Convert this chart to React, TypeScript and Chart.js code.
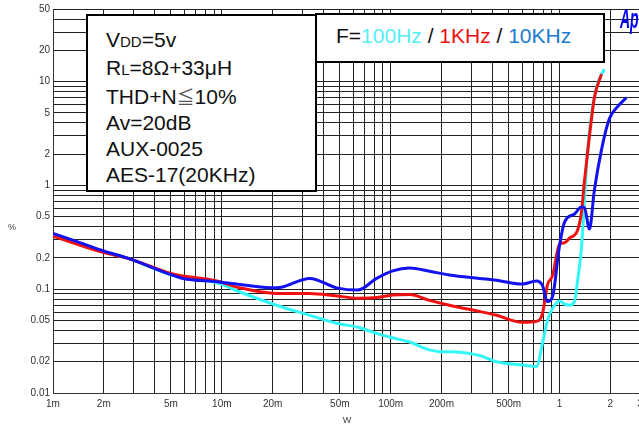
import React, { useEffect, useRef } from "react";
import { Chart, registerables } from "chart.js";
Chart.register(...registerables);

// Axis tick labels
const xLabelValues = [0.001, 0.002, 0.005, 0.01, 0.02, 0.05, 0.1, 0.2, 0.5, 1, 2, 3];
const xLabelTexts = ["1m", "2m", "5m", "10m", "20m", "50m", "100m", "200m", "500m", "1", "2", "3"];
const yLabelValues = [0.01, 0.02, 0.05, 0.1, 0.2, 0.5, 1, 2, 5, 10, 20, 50];
const yLabelTexts = ["0.01", "0.02", "0.05", "0.1", "0.2", "0.5", "1", "2", "5", "10", "20", "50"];

// 100Hz (cyan)
const cyanW = [0.001, 0.002, 0.00274, 0.00513, 0.00934, 0.0128, 0.0211, 0.0332, 0.0479, 0.0638, 0.0826, 0.1028, 0.1295, 0.17, 0.195, 0.223, 0.336, 0.424, 0.604, 0.731, 0.793, 0.849, 0.91, 1.0, 1.071, 1.146, 1.227, 1.28, 1.35, 1.406, 1.465, 1.567, 1.68, 1.846];
const cyanThd = [0.33, 0.228, 0.2, 0.136, 0.115, 0.094, 0.07, 0.056, 0.047, 0.043, 0.0375, 0.034, 0.031, 0.026, 0.025, 0.025, 0.023, 0.02, 0.0186, 0.018, 0.03, 0.05, 0.065, 0.077, 0.072, 0.07, 0.076, 0.12, 0.25, 0.72, 2.1, 5.5, 9.5, 13.2];

// 1KHz (red)
const redW = [0.001, 0.002, 0.00274, 0.00513, 0.00934, 0.0128, 0.0211, 0.0332, 0.0479, 0.0638, 0.0826, 0.1028, 0.1295, 0.17, 0.223, 0.336, 0.424, 0.604, 0.731, 0.793, 0.849, 0.91, 1.0, 1.071, 1.146, 1.28, 1.35, 1.406, 1.506, 1.61, 1.774];
const redThd = [0.325, 0.225, 0.2, 0.14, 0.12, 0.103, 0.091, 0.091, 0.086, 0.082, 0.083, 0.088, 0.089, 0.078, 0.07, 0.061, 0.056, 0.048, 0.049, 0.058, 0.11, 0.135, 0.27, 0.28, 0.31, 0.37, 0.55, 1.1, 3.0, 7.0, 11.8];

// 10KHz (blue)
const blueW = [0.001, 0.00135, 0.002, 0.00274, 0.00513, 0.00588, 0.00934, 0.0128, 0.0211, 0.0332, 0.0479, 0.0638, 0.0826, 0.1028, 0.1295, 0.17, 0.223, 0.336, 0.424, 0.604, 0.731, 0.793, 0.849, 0.91, 1.0, 1.071, 1.227, 1.35, 1.406, 1.506, 1.61, 1.774, 1.977, 2.203, 2.49];
const blueThd = [0.345, 0.292, 0.233, 0.2, 0.136, 0.127, 0.118, 0.111, 0.103, 0.127, 0.103, 0.098, 0.127, 0.15, 0.16, 0.149, 0.137, 0.127, 0.122, 0.112, 0.12, 0.109, 0.076, 0.085, 0.26, 0.44, 0.53, 0.62, 0.61, 0.38, 0.9, 2.2, 4.4, 5.7, 7.0];

const X_MIN = 0.001;
const X_MAX = 3;
const Y_MIN = 0.01;
const Y_MAX = 50;

function logGrid(min: number, max: number): number[] {
  const out: number[] = [];
  for (let e = Math.floor(Math.log10(min)); e <= Math.ceil(Math.log10(max)); e++) {
    for (let m = 1; m <= 9; m++) {
      const v = parseFloat((m * Math.pow(10, e)).toPrecision(6));
      if (v >= min * 0.9999 && v <= max * 1.0001) out.push(v);
    }
  }
  return out;
}

function labelFor(v: number, vals: number[], texts: string[]): string {
  for (let i = 0; i < vals.length; i++) {
    if (Math.abs(v - vals[i]) / vals[i] < 1e-4) return texts[i];
  }
  return "";
}

const tickFamily = "'Liberation Sans', Arial, Helvetica, sans-serif";
const sans = "'Liberation Sans', Arial, Helvetica, sans-serif";

export default function App() {
  const ref = useRef<HTMLCanvasElement>(null);

  useEffect(() => {
    const pts = (xs: number[], ys: number[]) => xs.map((x, i) => ({ x, y: ys[i] }));
    const titlePlugin = {
      id: "axisTitles",
      afterDraw(chart: any) {
        const ctx = chart.ctx;
        ctx.save();
        ctx.fillStyle = "#444";
        ctx.font = `9px ${tickFamily}`;
        ctx.textAlign = "center";
        ctx.textBaseline = "middle";
        ctx.fillText("%", 12, 228);
        ctx.fillText("W", 347, 421);
        ctx.restore();
      },
    };
    const tickFont = { family: tickFamily, size: 10 };
    const chart = new Chart(ref.current as HTMLCanvasElement, {
      type: "line",
      data: {
        datasets: [
          { label: "10KHz", data: pts(blueW, blueThd), borderColor: "#1212f0", borderWidth: 3, pointRadius: 0, fill: false, cubicInterpolationMode: "monotone" },
          { label: "1KHz", data: pts(redW, redThd), borderColor: "#f01010", borderWidth: 3, pointRadius: 0, fill: false, cubicInterpolationMode: "monotone" },
          { label: "100Hz", data: pts(cyanW, cyanThd), borderColor: "#33f6f6", borderWidth: 3, pointRadius: 0, fill: false, cubicInterpolationMode: "monotone" },
        ] as any,
      },
      options: {
        animation: false,
        responsive: false,
        devicePixelRatio: 1,
        layout: { autoPadding: false, padding: { left: 0, top: 8, right: 20, bottom: 0 } } as any,
        plugins: { legend: { display: false }, tooltip: { enabled: false } },
        scales: {
          x: {
            type: "logarithmic",
            min: X_MIN,
            max: X_MAX,
            afterBuildTicks: (s: any) => {
              s.ticks = logGrid(X_MIN, X_MAX).map((v) => ({ value: v }));
            },
            afterFit: (s: any) => {
              s.height = 40;
            },
            ticks: {
              autoSkip: false,
              maxRotation: 0,
              minRotation: 0,
              padding: 5,
              color: "#333",
              font: tickFont,
              callback: (v: any) => labelFor(Number(v), xLabelValues, xLabelTexts),
            },
            grid: { color: "#222", lineWidth: 1, drawTicks: false },
            border: { color: "#333", width: 1 },
          } as any,
          y: {
            type: "logarithmic",
            min: Y_MIN,
            max: Y_MAX,
            afterBuildTicks: (s: any) => {
              s.ticks = logGrid(Y_MIN, Y_MAX).map((v) => ({ value: v }));
            },
            afterFit: (s: any) => {
              s.width = 53;
            },
            ticks: {
              autoSkip: false,
              padding: 3,
              color: "#333",
              font: tickFont,
              callback: (v: any) => labelFor(Number(v), yLabelValues, yLabelTexts),
            },
            grid: { color: "#222", lineWidth: 1, drawTicks: false },
            border: { color: "#333", width: 1 },
          } as any,
        },
      },
      plugins: [titlePlugin],
    });
    return () => chart.destroy();
  }, []);

  const small = { fontSize: 15 };
  return (
    <div style={{ position: "fixed", left: 0, top: 0, width: 639, height: 433, overflow: "hidden", background: "#fff" }}>
      <canvas ref={ref} width={660} height={433} style={{ position: "absolute", left: 0, top: 0, width: 660, height: 433 }} />
      <div
        style={{
          position: "absolute",
          left: 86,
          top: 14,
          width: 231,
          height: 178,
          boxSizing: "border-box",
          border: "2px solid #000",
          background: "#fff",
          fontFamily: sans,
          fontSize: 21,
          lineHeight: "26px",
          paddingLeft: 18,
          paddingTop: 11,
          color: "#111",
        }}
      >
        <div>V<span style={small}>DD</span>=5v</div>
        <div>R<span style={small}>L</span>=8Ω+33μH</div>
        <div>THD+N<span style={{ fontFamily: "'Noto Sans CJK JP', 'DejaVu Sans', sans-serif", fontSize: 18, color: "#555" }}>≦</span>10%</div>
        <div>Av=20dB</div>
        <div>AUX-0025</div>
        <div>AES-17(20KHz)</div>
      </div>
      <div
        style={{
          position: "absolute",
          left: 315,
          top: 13,
          width: 290,
          height: 50,
          boxSizing: "border-box",
          border: "2px solid #000",
          background: "#fff",
          fontFamily: sans,
          fontSize: 21,
          lineHeight: "42px",
          paddingLeft: 19,
          color: "#111",
          whiteSpace: "nowrap",
        }}
      >
        F=<span style={{ color: "#55eef5" }}>100Hz</span> / <span style={{ color: "#f01010" }}>1KHz</span> / <span style={{ color: "#1a7ad0" }}>10KHz</span>
      </div>
      <div
        style={{
          position: "absolute",
          left: 620,
          top: 2,
          fontFamily: sans,
          fontWeight: "bold",
          fontStyle: "italic",
          fontSize: 28,
          lineHeight: "34px",
          color: "#0000ee",
          whiteSpace: "nowrap",
          transform: "scaleX(0.5)",
          transformOrigin: "left top",
        }}
      >
        Ap
      </div>
    </div>
  );
}
